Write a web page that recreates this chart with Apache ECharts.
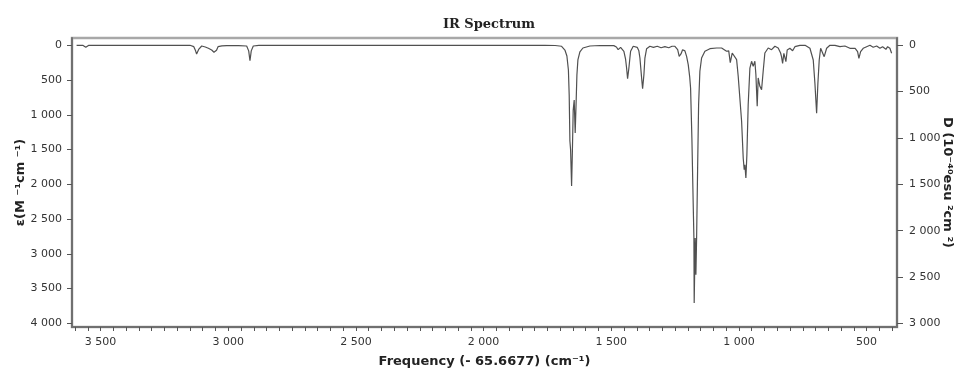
<!DOCTYPE html>
<html>
<head>
<meta charset="utf-8">
<script src="https://cdn.jsdelivr.net/npm/echarts@6/dist/echarts.min.js"></script>
<style>
  html, body { margin: 0; padding: 0; background: #fff; }
  #chart { width: 957px; height: 372px; }
</style>
</head>
<body>
<div id="chart"></div>
<script>
// spectrum: frequency (cm-1) and epsilon (M-1 cm-1)
const freq = [
  3594, 3570, 3558, 3546, 3300, 3150, 3135, 3128, 3124, 3116, 3104, 3090, 3078, 3065, 3056, 3052, 3046, 3040, 3025, 3006,
  2960, 2928, 2920, 2915, 2910, 2902, 2880, 2500, 2000, 1760, 1720, 1694.5, 1681.6, 1673.8, 1667.9, 1664.8, 1662, 1659.3,
  1655.4, 1652.2, 1649.1, 1645.2, 1641.3, 1637.4, 1634.6, 1630.7, 1622.9, 1611.1, 1583.7, 1544.5, 1490, 1480, 1473, 1467,
  1463.5, 1456, 1450.6, 1444, 1440, 1436.1, 1431, 1427, 1424.3, 1414, 1398.4, 1392, 1387.8, 1381.2, 1377.3, 1372.2, 1368.3,
  1361.6, 1348.7, 1335, 1320, 1305, 1290, 1275, 1262, 1250.8, 1240, 1234, 1227, 1220.7, 1211.6, 1205, 1198.6, 1193, 1189.4,
  1184.3, 1179.1, 1176.4, 1175.3, 1171.3, 1168.6, 1165.8, 1162, 1158, 1153, 1146.3, 1133.3, 1113.7, 1087.5, 1067.9, 1048.4,
  1040, 1034, 1026.4, 1018.6, 1009.1, 1002.9, 996.2, 989.6, 983.3, 979.4, 976.7, 972.8, 968.9, 963.8, 957.1, 950.5, 944.2,
  937.6, 933.6, 928.5, 924.6, 918, 911.4, 905.1, 898.5, 885.4, 872.2, 859.2, 846.3, 836.9, 833.3, 829, 824, 816.1, 811,
  800.5, 789.8, 780.8, 761.3, 741, 722, 709, 702.5, 695.8, 690.8, 685.6, 680.1, 672.3, 666.1, 656.6, 643.7, 624, 604.5,
  585, 565.4, 545, 535.3, 530.2, 523.5, 513.4, 500, 487, 474.2, 460.8, 447.8, 437.4, 424.4, 417.8, 408.8, 402.1
];
const epsilon = [
  0, 0, 29, 0, 0, 0, 20, 80, 125, 60, 10, 25, 43, 68, 100, 115, 70, 20, 8, 5,
  5, 10, 80, 222, 80, 10, 0, 0, 0, 0, 3, 14, 68, 154, 355, 715, 1377, 1506,
  2024, 1506, 931, 787, 1262, 787, 427, 211, 96, 39, 10, 3, 5, 25, 63, 35,
  29, 45, 86, 200, 327, 480, 327, 180, 86, 14, 29, 80, 183, 470, 624, 423, 183,
  49, 14, 29, 14, 35, 20, 35, 14, 14, 63, 158, 125, 63, 80, 160, 279, 450, 614,
  1334, 2293, 2773, 3708, 2773, 3301, 2773, 1813, 855, 374, 183, 86, 49, 39, 39, 86,
  80, 250, 111, 96, 207, 446, 470, 1093, 1622, 1790, 1718, 1909, 1574, 855, 327, 230, 302,
  230, 423, 878, 470, 590, 639, 374, 111, 39, 63, 14, 39, 111, 164, 259, 115, 236, 68,
  43, 78, 20, 0, 0, 43, 211, 547, 978, 547, 211, 43, 68, 164, 43, 0, 0, 20,
  10, 43, 43, 92, 187, 92, 43, 20, 0, 29, 10, 43, 20, 58, 20, 43, 115
];

const xLabelValues = [500, 1000, 1500, 2000, 2500, 3000, 3500];
const xTicks = [];
for (let v = 400; v <= 3600; v += 50) xTicks.push(v);
const leftTicks = [0, 500, 1000, 1500, 2000, 2500, 3000, 3500, 4000];
const rightTicks = [0, 500, 1000, 1500, 2000, 2500, 3000];

const X_MIN = 381, X_MAX = 3612;
const L_MIN = -105, L_MAX = 4053;

function fmt(v) {
  if (v >= 1000) return Math.floor(v / 1000) + ' ' + String(v % 1000).padStart(3, '0');
  return String(v);
}

const labelFont = { color: '#333', fontSize: 11, fontFamily: 'DejaVu Sans' };
const nameFont = { color: '#222', fontSize: 13, fontWeight: 'bold', fontFamily: 'DejaVu Sans' };
const axisCol = '#707070';

const chart = echarts.init(document.getElementById('chart'));
chart.setOption({
  animation: false,
  backgroundColor: '#fff',
  title: {
    text: 'IR Spectrum',
    left: 484,
    top: 13,
    textAlign: 'center',
    textStyle: { fontFamily: 'DejaVu Serif', fontWeight: 'bold', fontSize: 13, color: '#222' },
  },
  grid: {
    left: 72, right: 60, top: 38, bottom: 45,
    outerBoundsMode: 'none',
    containLabel: false,
    show: true,
    borderColor: '#a8a8a8',
    borderWidth: 2.5,
  },
  xAxis: {
    type: 'value',
    inverse: true,
    min: X_MIN,
    max: X_MAX,
    position: 'bottom',
    name: 'Frequency (- 65.6677) (cm\u207B\u00B9)',
    nameLocation: 'middle',
    nameGap: 28,
    nameMoveOverlap: false,
    nameTextStyle: nameFont,
    axisLine: { show: true, onZero: false, lineStyle: { color: axisCol, width: 2 } },
    axisTick: { show: true, customValues: xTicks, length: 4, lineStyle: { color: '#555' } },
    axisLabel: { customValues: xLabelValues, formatter: fmt, margin: 10, ...labelFont },
    splitLine: { show: false },
  },
  yAxis: [
    {
      type: 'value',
      inverse: true,
      min: L_MIN,
      max: L_MAX,
      position: 'left',
      name: '\u03B5(M \u207B\u00B9cm \u207B\u00B9)',
      nameLocation: 'middle',
      nameGap: 45,
      nameMoveOverlap: false,
      nameTextStyle: nameFont,
      axisLine: { show: true, onZero: false, lineStyle: { color: axisCol, width: 2 } },
      axisTick: { show: true, customValues: leftTicks, length: 5, lineStyle: { color: '#555' } },
      axisLabel: { customValues: leftTicks, formatter: fmt, margin: 10, ...labelFont },
      splitLine: { show: false },
    },
    {
      type: 'value',
      inverse: true,
      min: L_MIN * 0.75,
      max: L_MAX * 0.75,
      position: 'right',
      name: 'D (10\u207B\u2074\u2070esu \u00B2cm \u00B2)',
      nameLocation: 'middle',
      nameGap: 44,
      nameMoveOverlap: false,
      nameRotate: -90,
      nameTextStyle: nameFont,
      axisLine: { show: true, onZero: false, lineStyle: { color: axisCol, width: 2 } },
      axisTick: { show: true, customValues: rightTicks, length: 6, lineStyle: { color: '#555' } },
      axisLabel: { customValues: rightTicks, formatter: fmt, margin: 12, ...labelFont },
      splitLine: { show: false },
    },
  ],
  series: [
    {
      type: 'line',
      name: 'IR',
      symbol: 'none',
      silent: true,
      lineStyle: { color: '#505050', width: 1.2 },
      data: freq.map((f, i) => [f, epsilon[i]]),
    },
  ],
});
</script>
</body>
</html>
